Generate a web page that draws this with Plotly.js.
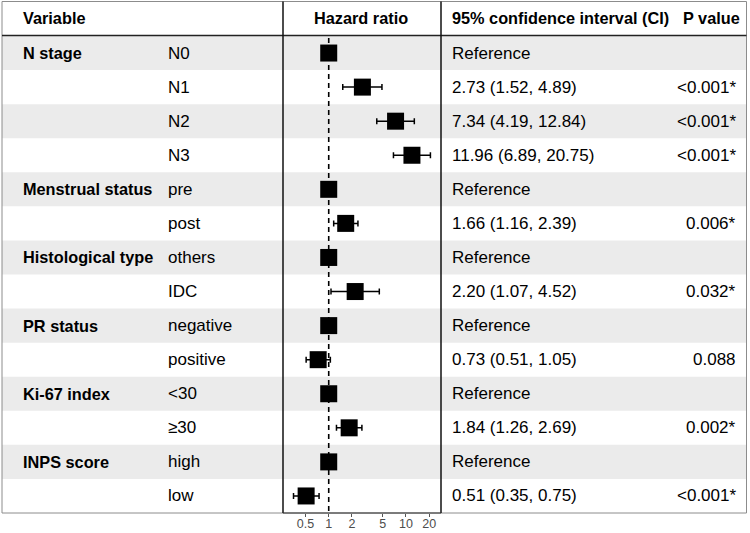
<!DOCTYPE html>
<html>
<head>
<meta charset="utf-8">
<script src="https://cdn.plot.ly/plotly-3.0.1.min.js"></script>
<style>html,body{margin:0;padding:0;background:#fff;}#chart{width:750px;height:533px;}</style>
</head>
<body>
<div id="chart"></div>
<script>
// ---- data ----
const groups = ["N stage", "", "", "", "Menstrual status", "", "Histological type", "", "PR status", "", "Ki-67 index", "", "INPS score", ""];
const subgroups = ["N0", "N1", "N2", "N3", "pre", "post", "others", "IDC", "negative", "positive", "<30", "≥30", "high", "low"];
const hr = [1, 2.73, 7.34, 11.96, 1, 1.66, 1, 2.20, 1, 0.73, 1, 1.84, 1, 0.51];
const lower = [1, 1.52, 4.19, 6.89, 1, 1.16, 1, 1.07, 1, 0.51, 1, 1.26, 1, 0.35];
const upper = [1, 4.89, 12.84, 20.75, 1, 2.39, 1, 4.52, 1, 1.05, 1, 2.69, 1, 0.75];
const ciText = ["Reference", "2.73 (1.52, 4.89)", "7.34 (4.19, 12.84)", "11.96 (6.89, 20.75)", "Reference", "1.66 (1.16, 2.39)", "Reference", "2.20 (1.07, 4.52)", "Reference", "0.73 (0.51, 1.05)", "Reference", "1.84 (1.26, 2.69)", "Reference", "0.51 (0.35, 0.75)"];
const pText = ["", "<0.001*", "<0.001*", "<0.001*", "", "0.006*", "", "0.032*", "", "0.088", "", "0.002*", "", "<0.001*"];
const headers = ["Variable", "Hazard ratio", "95% confidence interval (CI)", "P value"];
const tickVals = [0.5, 1, 2, 5, 10, 20];
const tickLabels = ["0.5", "1", "2", "5", "10", "20"];

// ---- layout helpers ----
const W = 750, H = 533;
const px = v => v / W;
const py = v => 1 - v / H;
const FONT = "Liberation Sans, Arial, sans-serif";
const rows = subgroups.map((_, i) => i + 1);

const shapes = [];
rows.forEach((r, i) => {
  if (i % 2 === 0) {
    shapes.push({type: "rect", xref: "paper", yref: "y", x0: px(2), x1: px(746.5), y0: r - 0.5, y1: r + 0.5,
      fillcolor: "#ebebeb", line: {width: 0}, layer: "below"});
  }
});
// outer border
shapes.push({type: "rect", xref: "paper", yref: "paper", x0: px(2), x1: px(746.5), y0: py(513), y1: py(1.5),
  line: {color: "#8c8c8c", width: 1}, fillcolor: "rgba(0,0,0,0)"});
// header bottom line
shapes.push({type: "line", xref: "paper", yref: "paper", x0: px(2), x1: px(746.5), y0: py(35.5), y1: py(35.5),
  line: {color: "#222", width: 1.5}});
// panel vertical lines
[283, 441].forEach(xv => shapes.push({type: "line", xref: "paper", yref: "paper", x0: px(xv), x1: px(xv), y0: py(513), y1: py(1.5),
  line: {color: "#111", width: 1.5}}));
// panel bottom line
shapes.push({type: "line", xref: "paper", yref: "paper", x0: px(283), x1: px(441), y0: py(513), y1: py(513),
  line: {color: "#333", width: 1}});

const annotations = [];
const bold = {family: FONT, size: 16.3, color: "#000"};
const reg = {family: FONT, size: 17, color: "#000"};
annotations.push({xref: "paper", yref: "paper", x: px(21), y: py(18), text: "<b>" + headers[0] + "</b>", showarrow: false, xanchor: "left", yanchor: "middle", font: bold});
annotations.push({xref: "paper", yref: "paper", x: px(361), y: py(18), text: "<b>" + headers[1] + "</b>", showarrow: false, xanchor: "center", yanchor: "middle", font: bold});
annotations.push({xref: "paper", yref: "paper", x: px(450), y: py(18), text: "<b>" + headers[2] + "</b>", showarrow: false, xanchor: "left", yanchor: "middle", font: bold});
annotations.push({xref: "paper", yref: "paper", x: px(742), y: py(18), text: "<b>" + headers[3] + "</b>", showarrow: false, xanchor: "right", yanchor: "middle", font: bold});
rows.forEach((r, i) => {
  if (groups[i]) annotations.push({xref: "paper", yref: "y", x: px(21), y: r, text: "<b>" + groups[i] + "</b>", showarrow: false, xanchor: "left", yanchor: "middle", font: bold});
  annotations.push({xref: "paper", yref: "y", x: px(166), y: r, text: subgroups[i].replace("<", "&lt;"), showarrow: false, xanchor: "left", yanchor: "middle", font: reg});
  annotations.push({xref: "paper", yref: "y", x: px(450), y: r, text: ciText[i], showarrow: false, xanchor: "left", yanchor: "middle", font: reg});
  if (pText[i]) annotations.push({xref: "paper", yref: "y", x: px(738), y: r, text: pText[i].replace("<", "&lt;"), showarrow: false, xanchor: "right", yanchor: "middle", font: reg});
});

const traces = [
  {x: [1, 1], y: [0.56, 14.5], mode: "lines", line: {color: "#000", width: 1.6, dash: "5px,4px"}, hoverinfo: "skip", showlegend: false, cliponaxis: false},
  {x: hr, y: rows, mode: "markers", type: "scatter",
   marker: {symbol: "square", size: 17, color: "#000"},
   error_x: {type: "data", symmetric: false, array: upper.map((u, i) => u - hr[i]), arrayminus: lower.map((l, i) => hr[i] - l),
     color: "#000", thickness: 1.5, width: 3},
   showlegend: false, cliponaxis: false}
];

const layout = {
  width: W, height: H,
  margin: {l: 0, r: 0, t: 0, b: 0, pad: 0},
  paper_bgcolor: "#fff", plot_bgcolor: "rgba(0,0,0,0)",
  showlegend: false,
  font: {family: FONT},
  xaxis: {type: "log", domain: [px(283), px(441)], range: [-0.592, 1.454], tickvals: tickVals, ticktext: tickLabels,
    ticks: "outside", ticklen: 3, tickwidth: 1, tickcolor: "#555", tickfont: {family: FONT, size: 12.5, color: "#4d4d4d"},
    ticklabelstandoff: -4,
    showgrid: false, zeroline: false, showline: false, fixedrange: true, anchor: "y"},
  yaxis: {domain: [py(513), py(36)], range: [14.5, 0.5], showgrid: false, zeroline: false, showline: false,
    showticklabels: false, ticks: "", fixedrange: true},
  shapes: shapes,
  annotations: annotations
};

Plotly.newPlot("chart", traces, layout, {staticPlot: true, displayModeBar: false});
</script>
</body>
</html>
